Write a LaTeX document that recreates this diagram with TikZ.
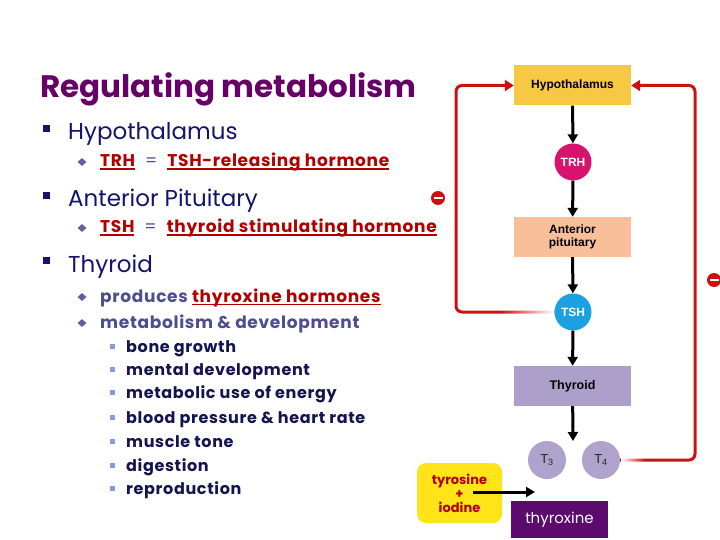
\documentclass[tikz,border=0pt]{standalone}
\usepackage{fontspec}
\setmainfont{Poppins}
\newfontfamily\hel{Liberation Sans}
\newfontfamily\spaced[LetterSpace=4]{Poppins}
\usetikzlibrary{fadings,arrows.meta,shapes.geometric}
\definecolor{titlec}{HTML}{660066}
\definecolor{navy}{HTML}{14146E}
\definecolor{slate}{HTML}{4D4D8F}
\definecolor{darkred}{HTML}{B00000}
\definecolor{subnavy}{HTML}{141450}
\definecolor{diamc}{HTML}{6060A0}
\definecolor{lbul}{HTML}{8899DD}
\definecolor{hypc}{HTML}{F7C843}
\definecolor{trhc}{HTML}{D6146E}
\definecolor{apc}{HTML}{F9BF9A}
\definecolor{tshc}{HTML}{1BA1E2}
\definecolor{thyc}{HTML}{ACA0CA}
\definecolor{tc}{HTML}{AFA3CD}
\definecolor{loopred}{HTML}{CC1111}
\definecolor{tyrc}{HTML}{FFE41A}
\definecolor{thxc}{HTML}{5C0A6E}
\newcommand\myul[1]{\setbox0\hbox{#1}\rlap{\rule[-3pt]{\wd0}{1.5pt}}\box0}
\newcommand\myeq{\hspace{10pt}\mdseries=\hspace{10pt}}
\tikzfading[name=fadeR, left color=transparent!100, right color=transparent!0]
\tikzfading[name=fadeL, left color=transparent!0, right color=transparent!100]
\tikzset{
  txt/.style={anchor=base west, inner sep=0pt},
  head/.style={txt, font=\fontsize{23}{23}\selectfont, text=navy},
  sub/.style={txt, font=\spaced\fontsize{17}{17}\selectfont\bfseries, text=slate},
  subsub/.style={txt, font=\spaced\fontsize{16}{16}\selectfont\bfseries, text=subnavy},
  sqbul/.style={rectangle, fill=navy, minimum size=7, inner sep=0pt},
  diambul/.style={diamond, fill=diamc, minimum width=9, minimum height=8, inner sep=0pt},
  lbulsq/.style={rectangle, fill=lbul, minimum size=5, inner sep=0pt},
  box/.style={rectangle, minimum width=117, minimum height=40, inner sep=0pt, font=\hel\bfseries\fontsize{12}{13}\selectfont, align=center},
  hormone/.style={circle, minimum size=37, inner sep=0pt, text=white, font=\hel\bfseries\fontsize{12}{12}\selectfont},
  tcirc/.style={circle, fill=tc, minimum size=38, inner sep=0pt, text=black!85, font=\hel\fontsize{13}{13}\selectfont},
  blk/.style={line width=3pt, black, -{Triangle[length=9pt,width=10pt]}},
  rloop/.style={line width=3pt, loopred, rounded corners=6pt, -{Triangle[length=9pt,width=11pt]}},
  minussign/.style={circle, fill=loopred, minimum size=14, inner sep=0pt,
    path picture={\fill[white] ([xshift=-4.5pt,yshift=-1.4pt]path picture bounding box.center) rectangle ([xshift=4.5pt,yshift=1.4pt]path picture bounding box.center);}}
}
\begin{document}
\begin{tikzpicture}[x=1pt,y=-1pt]
\useasboundingbox[fill=white] (0,0) rectangle (720,540);

% title
\node[txt, font=\fontsize{31}{31}\selectfont\bfseries, text=titlec] (title) at (40,98) {Regulating metabolism};

% headings
\node[sqbul] (b1) at (46.5,128.5) {};
\node[head] (h1) at (68,140) {Hypothalamus};
\node[diambul] (d1) at (82,162) {};
\node[sub] (r1) at (100,167) {\textcolor{darkred}{\myul{TRH}}\myeq\textcolor{darkred}{\bfseries\myul{TSH-releasing hormone}}};
\node[sqbul] (b2) at (46.5,195.5) {};
\node[head] (h2) at (68,207) {Anterior Pituitary};
\node[diambul] (d2) at (82,228) {};
\node[sub] (r2) at (100,233) {\textcolor{darkred}{\myul{TSH}}\myeq\textcolor{darkred}{\bfseries\myul{thyroid stimulating hormone}}};
\node[sqbul] (b3) at (46.5,260.5) {};
\node[head] (h3) at (68,272) {Thyroid};
\node[diambul] (d3) at (82,297) {};
\node[sub] (r3) at (100,302) {produces \textcolor{darkred}{\myul{thyroxine hormones}}};
\node[diambul] (d4) at (82,323) {};
\node[sub] (r4) at (100,328) {metabolism \& development};

\foreach \t/\yy [count=\i] in {bone growth/352, mental development/375, metabolic use of energy/398, blood pressure \& heart rate/423, muscle tone/447, digestion/471, reproduction/494}{
  \node[lbulsq] (sb\i) at (112.5,\yy-6) {};
  \node[subsub] (s\i) at (126,\yy) {\t};
}

% diagram nodes
\node[box, fill=hypc] (hyp) at (572.5,85.5) {Hypothalamus};
\node[hormone, fill=trhc] (trh) at (573,162) {TRH};
\node[box, fill=apc] (ap) at (572.5,237) {Anterior\\pituitary};
\node[hormone, fill=tshc] (tsh) at (573,312) {TSH};
\node[box, fill=thyc, font=\hel\bfseries\fontsize{12.5}{13}\selectfont] (thy) at (572.5,386) {Thyroid};
\node[tcirc] (t3) at (547,460) {T\textsubscript{3}};
\node[tcirc] (t4) at (601,460) {T\textsubscript{4}};
\coordinate (tend) at (573,441);
\node[rectangle, rounded corners=9pt, fill=tyrc, minimum width=85, minimum height=60, inner sep=0pt, align=center, text=darkred, font=\fontsize{13}{14}\selectfont\bfseries] (tyr) at (459.5,493) {tyrosine\\+\\iodine};
\node[rectangle, fill=thxc, minimum width=97, minimum height=37, inner sep=0pt, text=white, font=\fontsize{15}{15}\selectfont] (thx) at (559.5,519.5) {thyroxine};
\coordinate (tya) at (473,492);
\coordinate (tyb) at (535,492);

% black arrows
\draw[blk] (hyp) -- (trh);
\draw[blk] (trh) -- (ap);
\draw[blk] (ap) -- (tsh);
\draw[blk] (tsh) -- (thy);
\draw[blk] (thy) -- (tend);
\draw[blk] (tya) -- (tyb);

% feedback loops
\draw[rloop] (tsh.west) -- (456,312) -- (456,85.5) -- (hyp.west);
\draw[rloop] (t4.east) -- (695,460) -- (695,85.5) -- (hyp.east);
\fill[white, path fading=fadeR] (500,306) rectangle (tsh.west |- 0,318);
\fill[white, path fading=fadeL] (620.5,454) rectangle (645,466);

\node[minussign] (m1) at (438,198) {};
\node[minussign] (m2) at (714,280) {};
\end{tikzpicture}
\end{document}
